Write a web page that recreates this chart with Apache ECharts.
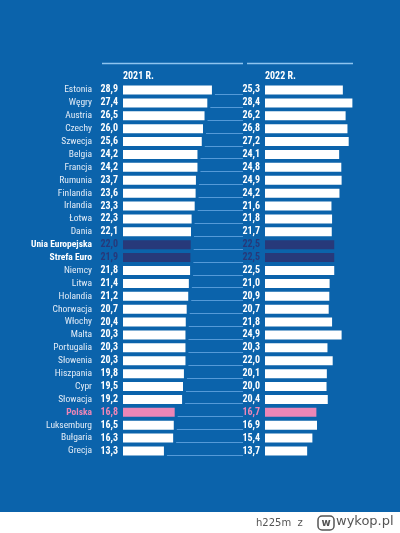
<!DOCTYPE html>
<html>
<head>
<meta charset="utf-8">
<script src="https://cdn.jsdelivr.net/npm/echarts@6/dist/echarts.min.js"></script>
<style>
html,body{margin:0;padding:0;background:#fff;}
#chart{width:400px;height:533px;background:linear-gradient(#0b63ab 0,#0b63ab 512px,#ffffff 512px);}
</style>
</head>
<body>
<div id="chart"></div>
<script>
const countries = ['Estonia','Węgry','Austria','Czechy','Szwecja','Belgia','Francja','Rumunia','Finlandia','Irlandia','Łotwa','Dania','Unia Europejska','Strefa Euro','Niemcy','Litwa','Holandia','Chorwacja','Włochy','Malta','Portugalia','Słowenia','Hiszpania','Cypr','Słowacja','Polska','Luksemburg','Bułgaria','Grecja'];
const values2021 = [28.9,27.4,26.5,26.0,25.6,24.2,24.2,23.7,23.6,23.3,22.3,22.1,22.0,21.9,21.8,21.4,21.2,20.7,20.4,20.3,20.3,20.3,19.8,19.5,19.2,16.8,16.5,16.3,13.3];
const values2022 = [25.3,28.4,26.2,26.8,27.2,24.1,24.8,24.9,24.2,21.6,21.8,21.7,22.5,22.5,22.5,21.0,20.9,20.7,21.8,24.9,20.3,22.0,20.1,20.0,20.4,16.7,16.9,15.4,13.7];
const yearLabels = ['2021 R.','2022 R.'];
const aggregates = ['Unia Europejska','Strefa Euro'];
const highlight = ['Polska'];

const FONT = "'Roboto Condensed','Open Sans Condensed',sans-serif";
const WHITE = '#ffffff', DARK = '#27397a', PINK = '#ec86b7', LIGHT = '#e3ecf7';
const XMAX = 39;
const fmt = v => v.toFixed(1).replace('.', ',');

function barData(vals){
  return vals.map((v,i)=>{
    const name = countries[i];
    let c = WHITE, lc = WHITE;
    if (aggregates.includes(name)) { c = DARK; lc = DARK; }
    if (highlight.includes(name)) { c = PINK; lc = PINK; }
    return {value:v, itemStyle:{color:c}, label:{color:lc}};
  });
}

const chart = echarts.init(document.getElementById('chart'), null, {renderer:'canvas'});
const gridTop = 83.55, gridH = 373.9;
const option = {
  animation:false,
  textStyle:{fontFamily:FONT},
  grid:[
    {left:123, top:gridTop, width:120, height:gridH},
    {left:265, top:gridTop, width:120, height:gridH}
  ],
  xAxis:[
    {gridIndex:0, type:'value', min:0, max:XMAX, show:false},
    {gridIndex:1, type:'value', min:0, max:XMAX, show:false}
  ],
  yAxis:[
    {gridIndex:0, type:'category', data:countries, inverse:true,
     axisLine:{show:false}, axisTick:{show:false},
     axisLabel:{interval:0, hideOverlap:false, margin:31, fontSize:9.5, color:LIGHT, fontFamily:FONT,
       formatter:(n)=> aggregates.includes(n) ? '{b|'+n+'}' : (highlight.includes(n) ? '{p|'+n+'}' : n),
       rich:{b:{fontWeight:'bold', color:WHITE, fontSize:9.5, fontFamily:FONT},
             p:{fontWeight:'bold', color:PINK, fontSize:9.5, fontFamily:FONT}}}},
    {gridIndex:1, type:'category', data:countries, inverse:true, show:false}
  ],
  series:[
    {type:'custom', xAxisIndex:0, yAxisIndex:0, data: values2021.map((v,i)=>[v,i]),
     encode:{x:0,y:1}, silent:true,
     renderItem:(params, api)=>{
       const p = api.coord([api.value(0), api.value(1)]);
       const e = api.coord([XMAX, api.value(1)]);
       const y = Math.round(p[1]) + 4.5;
       return {type:'line', shape:{x1:p[0]+3, y1:y, x2:e[0], y2:y}, style:{stroke:'#559ad8', lineWidth:1}};
     }},
    {type:'bar', xAxisIndex:0, yAxisIndex:0, data:barData(values2021), barWidth:9,
     label:{show:true, position:'left', distance:5, fontSize:10, fontWeight:'bold', fontFamily:FONT, formatter:p=>fmt(p.value)}},
    {type:'bar', xAxisIndex:1, yAxisIndex:1, data:barData(values2022), barWidth:9,
     label:{show:true, position:'left', distance:5, fontSize:10, fontWeight:'bold', fontFamily:FONT, formatter:p=>fmt(p.value)}}
  ],
  graphic:[
    {type:'line', shape:{x1:102, y1:63.5, x2:243, y2:63.5}, style:{stroke:'#8ec4ef', lineWidth:1.5}},
    {type:'line', shape:{x1:247, y1:63.5, x2:353, y2:63.5}, style:{stroke:'#8ec4ef', lineWidth:1.5}},
    {type:'text', x:123, y:76, style:{text:yearLabels[0], fill:WHITE, font:"bold 10px "+FONT, textVerticalAlign:'middle'}},
    {type:'text', x:265, y:76, style:{text:yearLabels[1], fill:WHITE, font:"bold 10px "+FONT, textVerticalAlign:'middle'}},
    {type:'text', x:256, y:523, style:{text:'h225m  z', fill:'#555', font:"10px 'DejaVu Sans',sans-serif", textVerticalAlign:'middle'}},
    {type:'rect', shape:{x:318, y:516, width:16, height:14, r:4}, style:{fill:'none', stroke:'#555', lineWidth:1.5}},
    {type:'text', x:326, y:523, style:{text:'w', fill:'#555', font:"bold 10px 'DejaVu Sans',sans-serif", textAlign:'center', textVerticalAlign:'middle'}},
    {type:'text', x:336, y:522, style:{text:'wykop.pl', fill:'#555', font:"13px 'DejaVu Sans',sans-serif", textVerticalAlign:'middle'}}
  ]
};
chart.setOption(option);
</script>
</body>
</html>
